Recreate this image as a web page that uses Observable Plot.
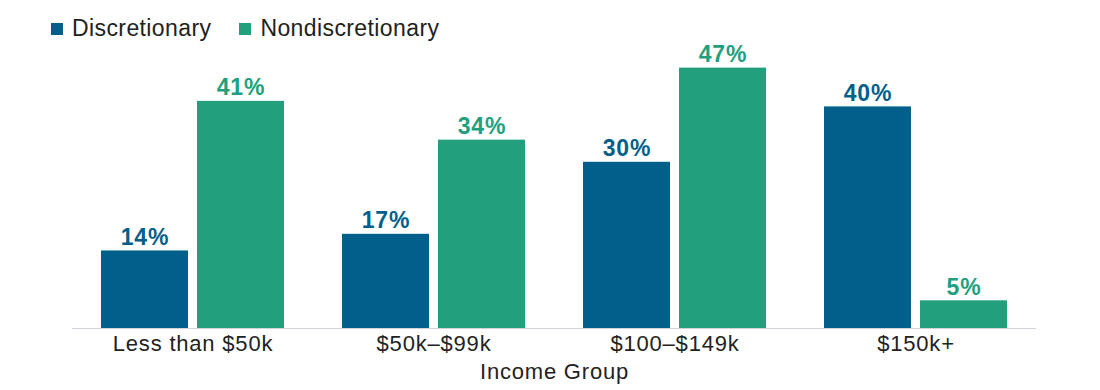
<!DOCTYPE html>
<html>
<head>
<meta charset="utf-8">
<script src="https://cdn.jsdelivr.net/npm/d3@7"></script>
<script src="https://cdn.jsdelivr.net/npm/@observablehq/plot@0.6"></script>
<style>
  body { margin: 0; background: #fff; font-family: "Liberation Sans", Arial, sans-serif; }
  #legend { position: relative; height: 30px; }
  #legend .row { position: absolute; top: 13px; left: 51px; height: 31px; display: flex; align-items: center; font-size: 23px; color: #222; letter-spacing: 0.4px; white-space: nowrap; }
  .item { display: flex; align-items: center; margin-right: 28px; }
  .sw { width: 12px; height: 12px; margin-right: 9px; }
  #chart svg text { letter-spacing: 0.8px; }
</style>
</head>
<body>
<div id="legend"><div class="row"></div></div>
<div id="chart"></div>
<script>
const groups = ["Less than $50k", "$50k–$99k", "$100–$149k", "$150k+"];
const series = ["Discretionary", "Nondiscretionary"];
const colors = ["#015f8a", "#22a07e"];
const discretionary = [14, 17, 30, 40];
const nondiscretionary = [41, 34, 47, 5];

const data = [];
groups.forEach((g, i) => {
  data.push({group: g, series: series[0], value: discretionary[i]});
  data.push({group: g, series: series[1], value: nondiscretionary[i]});
});

const legend = document.querySelector("#legend .row");
series.forEach((s, i) => {
  const it = document.createElement("div");
  it.className = "item";
  it.innerHTML = `<span class="sw" style="background:${colors[i]}"></span><span>${s}</span>`;
  legend.appendChild(it);
});

const chart = Plot.plot({
  width: 1100,
  height: 360,
  marginLeft: 71,
  marginRight: 64,
  marginTop: 21,
  marginBottom: 62,
  style: {fontFamily: "'Liberation Sans', Arial, sans-serif", color: "#222", background: "#fff", overflow: "visible"},
  fx: {domain: groups, padding: 0, label: "Income Group"},
  x: {domain: series, paddingInner: 0.094, paddingOuter: 0.302, axis: null},
  y: {domain: [0, 50], axis: null},
  color: {domain: series, range: colors},
  marks: [
    Plot.ruleY([0], {stroke: "#cfd3da", strokeWidth: 1.2}),
    Plot.barY(data, {fx: "group", x: "series", y: "value", fill: "series"}),
    Plot.text(data, {fx: "group", x: "series", y: "value", text: d => d.value + "%", fill: "series",
      lineAnchor: "bottom", dy: -6, fontSize: 23, fontWeight: "bold"}),
    Plot.axisFx({anchor: "bottom", tickSize: 0, tickPadding: 7, fontSize: 22, fill: "#222",
      label: "Income Group", labelAnchor: "center", labelOffset: 50})
  ]
});
document.getElementById("chart").appendChild(chart);
</script>
</body>
</html>
